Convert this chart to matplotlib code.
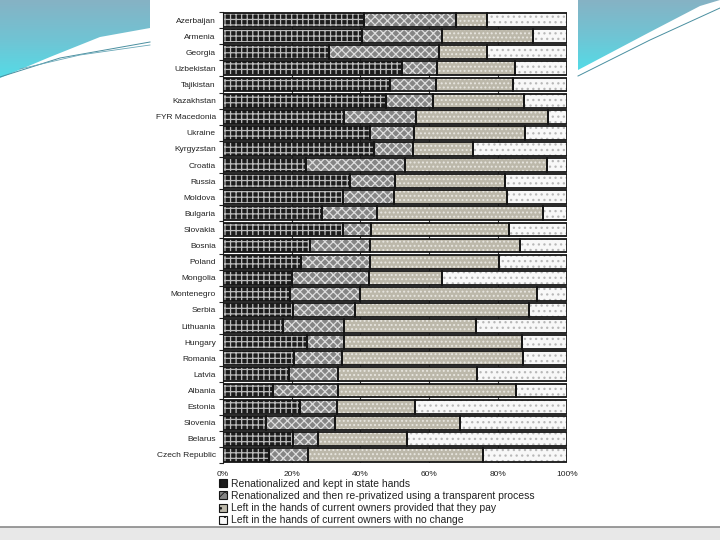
import numpy as np
import matplotlib
matplotlib.use("Agg")
import matplotlib.pyplot as plt
from matplotlib.patches import Patch, Polygon, Rectangle
from matplotlib.colors import LinearSegmentedColormap

plt.rcParams['font.family'] = ['Liberation Sans', 'DejaVu Sans']

countries = ["Azerbaijan", "Armenia", "Georgia", "Uzbekistan", "Tajikistan", "Kazakhstan",
             "FYR Macedonia", "Ukraine", "Kyrgyzstan", "Croatia", "Russia", "Moldova",
             "Bulgaria", "Slovakia", "Bosnia", "Poland", "Mongolia", "Montenegro", "Serbia",
             "Lithuania", "Hungary", "Romania", "Latvia", "Albania", "Estonia", "Slovenia",
             "Belarus", "Czech Republic"]

kept_state = [41.1, 40.4, 31.0, 52.0, 48.6, 47.4, 35.3, 42.8, 44.0, 24.2, 37.0, 35.0,
              28.8, 35.0, 25.4, 22.8, 20.0, 19.6, 20.3, 17.6, 24.6, 20.7, 19.3, 14.5,
              22.5, 12.5, 20.5, 13.5]
reprivatized = [26.7, 23.3, 31.8, 10.4, 13.4, 13.6, 20.8, 12.9, 11.2, 28.8, 13.1, 14.8,
                16.0, 8.0, 17.4, 20.0, 22.6, 20.2, 18.1, 17.6, 10.6, 14.1, 14.3, 18.9,
                10.8, 20.0, 7.3, 11.4]
owners_pay = [8.9, 26.4, 14.1, 22.6, 22.5, 26.7, 38.4, 32.2, 17.5, 41.4, 32.0, 32.8,
              48.4, 40.2, 43.6, 37.5, 21.2, 51.7, 50.7, 38.4, 51.7, 52.6, 40.2, 51.8,
              22.6, 36.5, 25.9, 50.9]
no_change = [23.3, 9.9, 23.1, 15.0, 15.5, 12.3, 5.5, 12.1, 27.3, 5.6, 17.9, 17.4,
             6.8, 16.8, 13.6, 19.7, 36.2, 8.5, 10.9, 26.4, 13.1, 12.6, 26.2, 14.8,
             44.1, 31.0, 46.3, 24.2]

series_labels = ["Renationalized and kept in state hands",
                 "Renationalized and then re-privatized using a transparent process",
                 "Left in the hands of current owners provided that they pay",
                 "Left in the hands of current owners with no change"]
xtick_vals = [0, 20, 40, 60, 80, 100]
xtick_labels = ["0%", "20%", "40%", "60%", "80%", "100%"]

styles = [
    dict(fc="#1c1c1c", hatch="+++", hc="#bcbcbc"),
    dict(fc="#858585", hatch="xxxx", hc="#dedede"),
    dict(fc="#bcb8aa", hatch="....", hc="#e8e6e0"),
    dict(fc="#f8f8f8", hatch="...", hc="#b8b8b8"),
]

W, H = 720, 540
fig = plt.figure(figsize=(7.2, 5.4), dpi=100)

# ---- slide background ----
bg = fig.add_axes([0, 0, 1, 1], zorder=-5)
bg.set_xlim(0, W)
bg.set_ylim(H, 0)
bg.axis("off")
grad = np.linspace(0, 1, 256).reshape(-1, 1)
cmap = LinearSegmentedColormap.from_list("sl", ["#86b2c4", "#70c4d4", "#52dde8"])
polyL = Polygon([(0, 0), (150, 0), (150, 28), (100, 37), (50, 57), (0, 78)],
                closed=True, transform=bg.transData, facecolor="none", edgecolor="none")
bg.add_patch(polyL)
im = bg.imshow(grad, extent=[0, 150, 80, 0], cmap=cmap, aspect="auto")
im.set_clip_path(polyL)
polyR = Polygon([(578, 0), (720, 0), (700, 6), (650, 32), (578, 70)],
                closed=True, transform=bg.transData, facecolor="none", edgecolor="none")
bg.add_patch(polyR)
im2 = bg.imshow(grad, extent=[578, 720, 72, 0], cmap=cmap, aspect="auto")
im2.set_clip_path(polyR)
bg.plot([0, 60, 150], [77, 58, 42], color="#4a8fa0", lw=0.7)
bg.plot([20, 80, 150], [69, 55, 45], color="#6aa8b8", lw=0.6)
bg.plot([578, 650, 720], [76, 40, 8], color="#4a8fa0", lw=0.7)
bg.add_patch(Rectangle((0, 527), W, 13, facecolor="#e8e8e8", edgecolor="none"))
bg.plot([0, W], [527, 527], color="#8a8a8a", lw=1.2)

# ---- chart ----
left = 222.7 / W
right = 566.7 / W
top = 1 - 12 / H
bottom = 1 - 463 / H
ax = fig.add_axes([left, bottom, right - left, top - bottom])
ax.set_facecolor("white")

y = np.arange(len(countries))
series = [kept_state, reprivatized, owners_pay, no_change]
lefts = np.zeros(len(countries))
bh = 0.86
plt.rcParams['hatch.linewidth'] = 0.9
for vals, st in zip(series, styles):
    vals = np.array(vals)
    ax.barh(y, vals, left=lefts, height=bh, color=st["fc"], hatch=st["hatch"],
            edgecolor=st["hc"], linewidth=0, zorder=2)
    ax.barh(y, vals, left=lefts, height=bh, fill=False, edgecolor="#151515",
            linewidth=1.3, zorder=3)
    lefts = lefts + vals

ax.set_xlim(0, 100)
ax.set_ylim(len(countries) - 0.5, -0.5)
ax.set_yticks(y)
ax.set_yticklabels(countries, fontsize=6, color="#222222")
ax.set_yticks(np.arange(len(countries) + 1) - 0.5, minor=True)
ax.tick_params(axis="y", which="major", length=0, pad=5)
ax.tick_params(axis="y", which="minor", length=3, width=0.8, color="#222222", direction="out")
ax.set_xticks(xtick_vals)
ax.set_xticklabels(xtick_labels, fontsize=6, color="#222222")
ax.tick_params(axis="x", length=0, pad=6)
for v in xtick_vals[1:-1]:
    ax.axvline(v, color="#333333", lw=0.8, zorder=1)
for s in ["top", "right", "bottom"]:
    ax.spines[s].set_visible(False)
ax.spines["left"].set_linewidth(0.8)
ax.spines["left"].set_color("#222222")

plt.rcParams['hatch.linewidth'] = 0.6
handles = [Patch(facecolor=st["fc"], hatch=st["hatch"][:2], edgecolor="#151515", linewidth=0.8)
           for st in styles]
leg = fig.legend(handles, series_labels, loc="upper left",
                 bbox_to_anchor=(219 / W, 1 - 479 / H), frameon=False, fontsize=7.5,
                 handlelength=0.8, handleheight=0.8, handletextpad=0.4,
                 labelspacing=0.2, borderaxespad=0, borderpad=0)
for t in leg.get_texts():
    t.set_color("#222222")

fig.savefig("out.png", dpi=100)
